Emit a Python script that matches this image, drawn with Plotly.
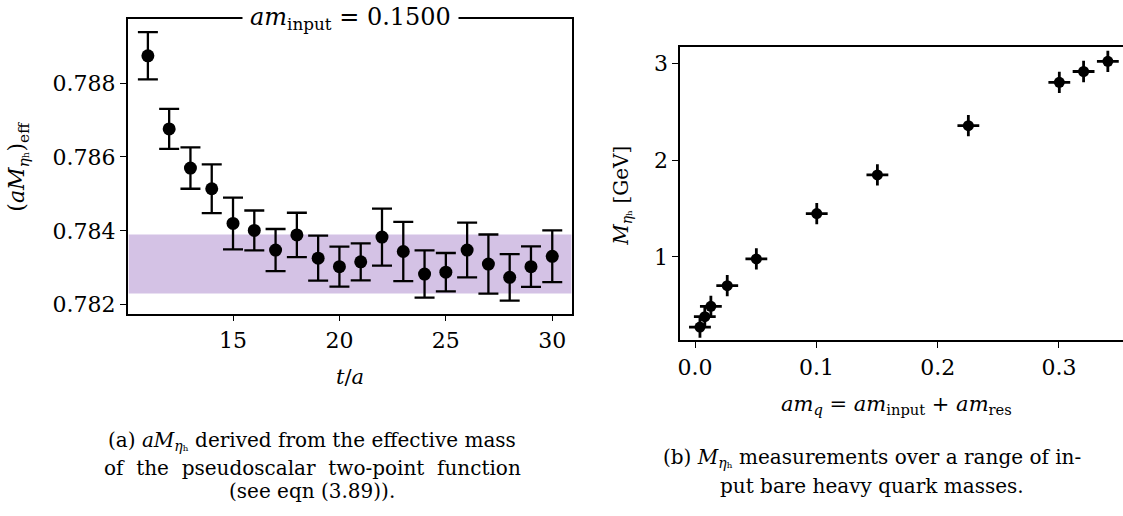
import plotly.graph_objects as go

# ---- Panel (a): effective mass ----
t_vals = [11, 12, 13, 14, 15, 16, 17, 18, 19, 20, 21, 22, 23, 24, 25, 26, 27, 28, 29, 30]
aM_eff = [0.78874, 0.78676, 0.78570, 0.78514, 0.78420, 0.78401, 0.78348, 0.78389, 0.78326, 0.78303,
          0.78316, 0.78383, 0.78344, 0.78283, 0.78288, 0.78348, 0.78310, 0.78274, 0.78303, 0.78331]
aM_err = [0.00064, 0.00054, 0.00056, 0.00066, 0.00070, 0.00054, 0.00057, 0.00060, 0.00061, 0.00054,
          0.00050, 0.00077, 0.00080, 0.00064, 0.00052, 0.00074, 0.00080, 0.00063, 0.00055, 0.00070]
band_lo, band_hi = 0.782306, 0.783901
band_t = [10.1, 30.9]

# ---- Panel (b): M_eta_h vs am_q ----
am_q = [0.0040, 0.0080, 0.0130, 0.0265, 0.0505, 0.1003, 0.1503, 0.2253, 0.3003, 0.3203, 0.3403]
M_GeV = [0.275, 0.383, 0.490, 0.703, 0.980, 1.448, 1.848, 2.357, 2.805, 2.917, 3.022]
M_err = [0.11] * len(M_GeV)
amq_err = [0.009] * len(am_q)

FONT = "DejaVu Serif"
CAPFONT = "DejaVu Serif"
W, H = 1123, 516

def px_x(p):
    return p / W

def px_y(p):
    return 1 - p / H

fig = go.Figure()

fig.add_trace(go.Scatter(
    x=t_vals, y=aM_eff, mode="markers",
    marker=dict(color="black", size=13),
    error_y=dict(type="data", array=aM_err, color="black", thickness=2.3, width=10),
    xaxis="x", yaxis="y", showlegend=False,
))

fig.add_trace(go.Scatter(
    x=am_q, y=M_GeV, mode="markers",
    marker=dict(color="black", size=11),
    error_y=dict(type="data", array=M_err, color="black", thickness=2.8, width=0),
    error_x=dict(type="data", array=amq_err, color="black", thickness=2.8, width=0),
    xaxis="x2", yaxis="y2", showlegend=False,
))

fig.add_shape(type="rect", xref="x", yref="y", x0=band_t[0], x1=band_t[1], y0=band_lo, y1=band_hi,
              fillcolor="rgba(148,103,189,0.4)", line=dict(width=0), layer="below")

axis_common = dict(
    showline=True, linecolor="black", linewidth=1.6, ticks="outside", ticklen=6, tickwidth=1.4,
    tickcolor="black", showgrid=False, zeroline=False,
    tickfont=dict(family=FONT, size=22, color="black"),
)

fig.update_layout(
    width=W, height=H, margin=dict(l=0, r=0, t=0, b=0),
    paper_bgcolor="white", plot_bgcolor="white",
    font=dict(family=FONT, color="black"),
    xaxis=dict(domain=[px_x(125), px_x(571)], range=[10.05, 30.95], tickvals=[15, 20, 25, 30],
               mirror=True, anchor="y", **axis_common),
    yaxis=dict(domain=[px_y(316), px_y(19)], range=[0.78176, 0.78974],
               tickvals=[0.782, 0.784, 0.786, 0.788], tickformat=".3f",
               mirror=True, anchor="x", **axis_common),
    xaxis2=dict(domain=[px_x(679), 1.0], range=[-0.0123, 0.3528], tickvals=[0.0, 0.1, 0.2, 0.3],
                tickformat=".1f", mirror=True, anchor="y2", **axis_common),
    yaxis2=dict(domain=[px_y(343), px_y(47)], range=[0.138, 3.174], tickvals=[1, 2, 3],
                mirror=False, anchor="x2", **axis_common),
)

ann = []
lab_font = dict(family=FONT, size=21, color="black")
# title of panel (a)
ann.append(dict(xref="paper", yref="paper", x=(px_x(125) + px_x(571)) / 2, y=px_y(19),
                text="<i>am</i><sub>input</sub>&nbsp;=&nbsp;0.1500", showarrow=False,
                font=dict(family=FONT, size=24, color="black"), bgcolor="white",
                xanchor="center", yanchor="middle", borderpad=7))
# axis labels
ann.append(dict(xref="paper", yref="paper", x=px_x(348), y=px_y(380), text="<i>t</i>/<i>a</i>",
                showarrow=False, font=lab_font, xanchor="center", yanchor="middle"))
ann.append(dict(xref="paper", yref="paper", x=px_x(16), y=px_y(168),
                text="(<i>aM</i><sub><i>η</i>ₕ</sub>)<sub>eff</sub>", textangle=-90,
                showarrow=False, font=dict(family=FONT, size=22, color="black"),
                xanchor="center", yanchor="middle"))
ann.append(dict(xref="paper", yref="paper", x=px_x(896), y=px_y(408),
                text="<i>am</i><sub><i>q</i></sub> = <i>am</i><sub>input</sub> + <i>am</i><sub>res</sub>",
                showarrow=False, font=lab_font, xanchor="center", yanchor="middle"))
ann.append(dict(xref="paper", yref="paper", x=px_x(621), y=px_y(197),
                text="<i>M</i><sub><i>η</i>ₕ</sub> [GeV]", textangle=-90,
                showarrow=False, font=dict(family=FONT, size=20, color="black"),
                xanchor="center", yanchor="middle"))
# captions (one annotation per line for LaTeX-like line spacing)
cap_font = dict(family=CAPFONT, size=20, color="black")
cap_a = ["(a) <i>aM</i><sub><i>η</i>ₕ</sub> derived from the effective mass",
         "of &nbsp;the &nbsp;pseudoscalar &nbsp;two-point &nbsp;function",
         "(see eqn (3.89))."]
cap_a_y = [444, 472, 495]
cap_b = ["(b) <i>M</i><sub><i>η</i>ₕ</sub> measurements over a range of in-",
         "put bare heavy quark masses."]
cap_b_y = [462, 490]
for line, yy in zip(cap_a, cap_a_y):
    ann.append(dict(xref="paper", yref="paper", x=px_x(310), y=px_y(yy), text=line,
                    showarrow=False, font=cap_font, xanchor="center", yanchor="middle"))
for line, yy in zip(cap_b, cap_b_y):
    ann.append(dict(xref="paper", yref="paper", x=px_x(871), y=px_y(yy), text=line,
                    showarrow=False, font=cap_font, xanchor="center", yanchor="middle"))
fig.update_layout(annotations=ann)

fig.write_html("out.html")
